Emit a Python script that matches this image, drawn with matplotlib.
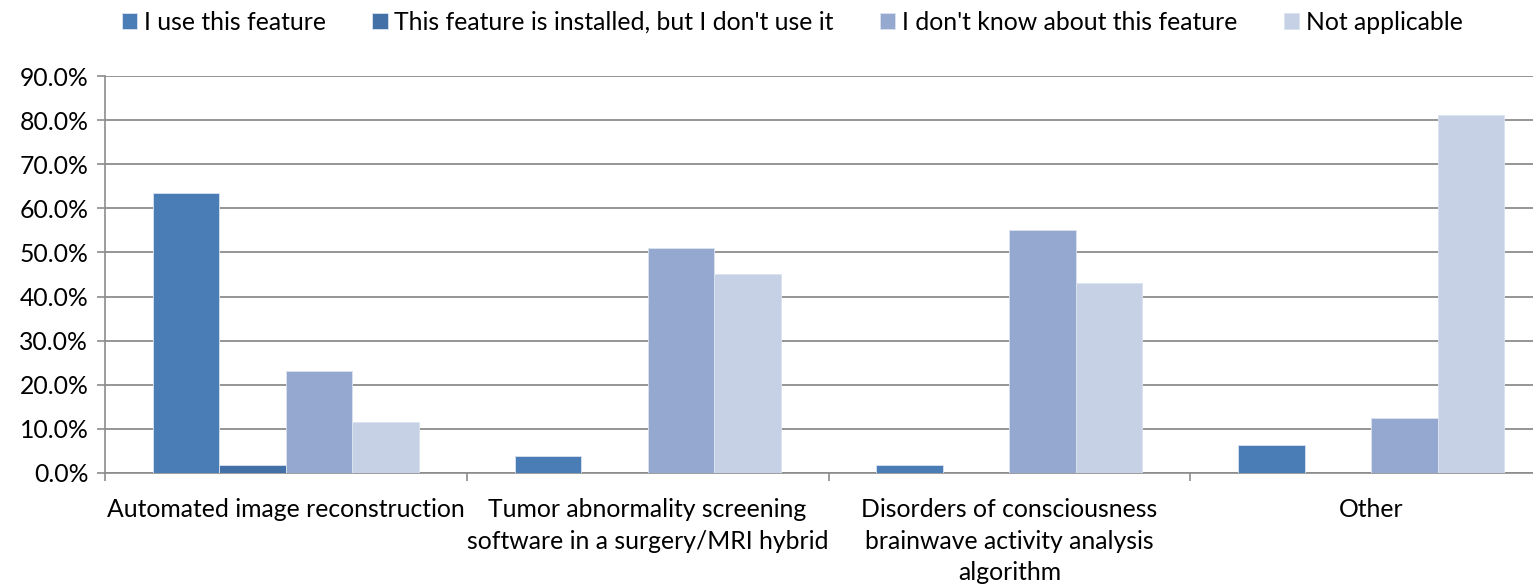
import numpy as np
import matplotlib
matplotlib.use("Agg")
import matplotlib.pyplot as plt

# datos (porcentaje)
categorias = ["Automated image reconstruction",
              "Tumor abnormality screening\nsoftware in a surgery/MRI hybrid",
              "Disorders of consciousness\nbrainwave activity analysis\nalgorithm",
              "Other"]
series = ["I use this feature",
          "This feature is installed, but I don't use it",
          "I don't know about this feature",
          "Not applicable"]
uso = [63.4, 3.9, 1.9, 6.3]
instalado = [1.8, 0.0, 0.0, 0.0]
no_conoce = [23.1, 51.0, 55.0, 12.5]
no_aplica = [11.5, 45.1, 43.1, 81.1]
valores = [uso, instalado, no_conoce, no_aplica]
colores = ["#4A7CB6", "#4470A8", "#95A9D0", "#C7D1E5"]
ticks_y = [0, 10, 20, 30, 40, 50, 60, 70, 80, 90]

plt.rcParams['font.family'] = ['Lato', 'DejaVu Sans']
W, H = 1533, 585
fs = 17.8
fig = plt.figure(figsize=(W / 100, H / 100), dpi=100)
# el area de la grafica se sale un poco por la derecha como en la original
ax = fig.add_axes([105 / W, 112 / H, 1447 / W, 397 / H])

x = np.arange(len(categorias))
ancho = 0.1837
barras = []
for j, (vals, col) in enumerate(zip(valores, colores)):
    b = ax.bar(x + (j - 1.5) * ancho, vals, width=ancho, color=col,
               edgecolor="#DCE3F0", linewidth=0.6, zorder=3, label=series[j])
    barras.append(b)

ax.set_xlim(-0.5, len(categorias) - 0.5)
ax.set_ylim(0, 90)
ax.set_yticks(ticks_y)
ax.set_yticklabels([f"{v:.1f}%" for v in ticks_y])
ax.yaxis.grid(True, color="#8C8C8C", linewidth=1.3, zorder=0)

# ticks de x en los limites de cada categoria, etiquetas al centro
ax.set_xticks(np.arange(-0.5, len(categorias), 1.0))
ax.set_xticklabels([])
ax.set_xticks(x, minor=True)
ax.set_xticklabels(categorias, minor=True, fontsize=fs, linespacing=1.45)
ax.tick_params(axis="x", which="minor", length=0, pad=18)
ax.tick_params(axis="x", which="major", length=6, width=1.2, color="#8C8C8C")
ax.tick_params(axis="y", length=6, width=1.2, color="#8C8C8C", labelsize=fs, pad=6)

for lado in ["top", "right"]:
    ax.spines[lado].set_visible(False)
for lado in ["left", "bottom"]:
    ax.spines[lado].set_color("#8C8C8C")
    ax.spines[lado].set_linewidth(1.2)

fig.legend(handles=barras, labels=series, loc="center left",
           bbox_to_anchor=(122 / W, 1 - 22 / H), ncol=4, frameon=False,
           fontsize=fs, handlelength=0.61, handleheight=0.61,
           handletextpad=0.28, columnspacing=1.88, borderpad=0, borderaxespad=0)

fig.savefig("out.png", dpi=100)
